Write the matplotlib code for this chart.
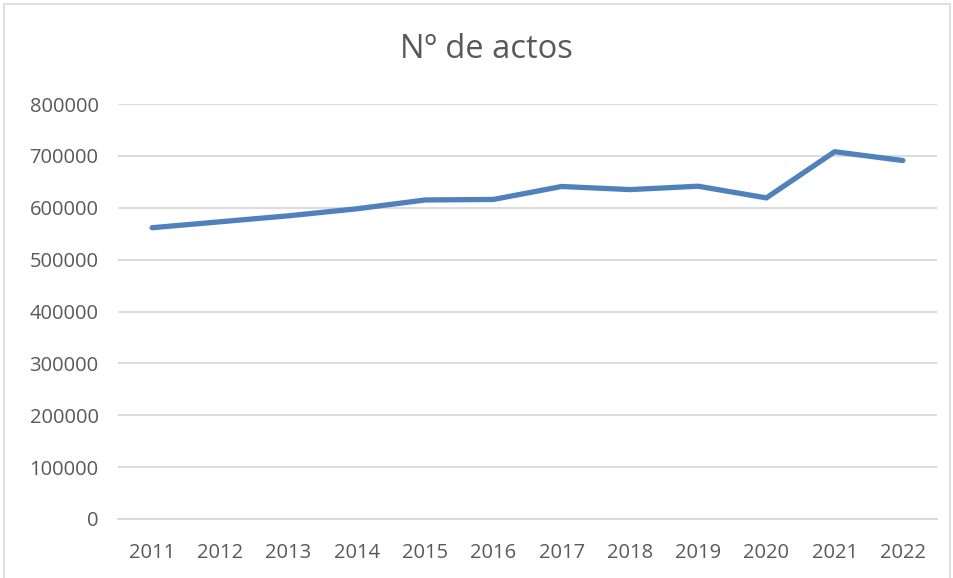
import matplotlib.pyplot as plt
from matplotlib.patches import Rectangle

years = ['2011', '2012', '2013', '2014', '2015', '2016',
         '2017', '2018', '2019', '2020', '2021', '2022']
actos = [561500, 573000, 584500, 598000, 615000, 616000,
         641000, 635000, 641500, 619000, 708000, 691000]
yticks = [0, 100000, 200000, 300000, 400000, 500000, 600000, 700000, 800000]

plt.rcParams['font.family'] = ['Open Sans', 'DejaVu Sans']

W, H = 954, 578
fig = plt.figure(figsize=(W / 100, H / 100), dpi=100)
ax = fig.add_axes([118 / W, 1 - 519 / H, (937 - 118) / W, (519 - 104) / H])

x = range(len(years))
ax.plot(x, actos, color='#4F81BD', linewidth=3.8, solid_capstyle='round',
        solid_joinstyle='round', zorder=3)

ax.set_xlim(-0.5, len(years) - 0.5)
ax.set_ylim(0, 800000)
ax.set_yticks(yticks)
ax.set_yticklabels([str(v) for v in yticks])
ax.set_xticks(list(x))
ax.set_xticklabels(years)

ax.grid(axis='y', color='#D9D9D9', linewidth=1.3)
ax.set_axisbelow(True)
for s in ['top', 'right', 'left']:
    ax.spines[s].set_visible(False)
ax.spines['bottom'].set_color('#D9D9D9')
ax.spines['bottom'].set_linewidth(1.3)
ax.tick_params(length=0, labelsize=14.5, labelcolor='#595959')
ax.tick_params(axis='y', pad=14)
ax.tick_params(axis='x', pad=17)

fig.text(486 / W, 1 - 49 / H, 'Nº de actos', ha='center', va='center',
         fontsize=23.5, color='#595959')

fig.patches.append(Rectangle((4 / W, -0.1), 946 / W, 1.1 - 4 / H,
                             transform=fig.transFigure, fill=False,
                             edgecolor='#D9D9D9', linewidth=1.2))

fig.savefig('out.png', dpi=100)
